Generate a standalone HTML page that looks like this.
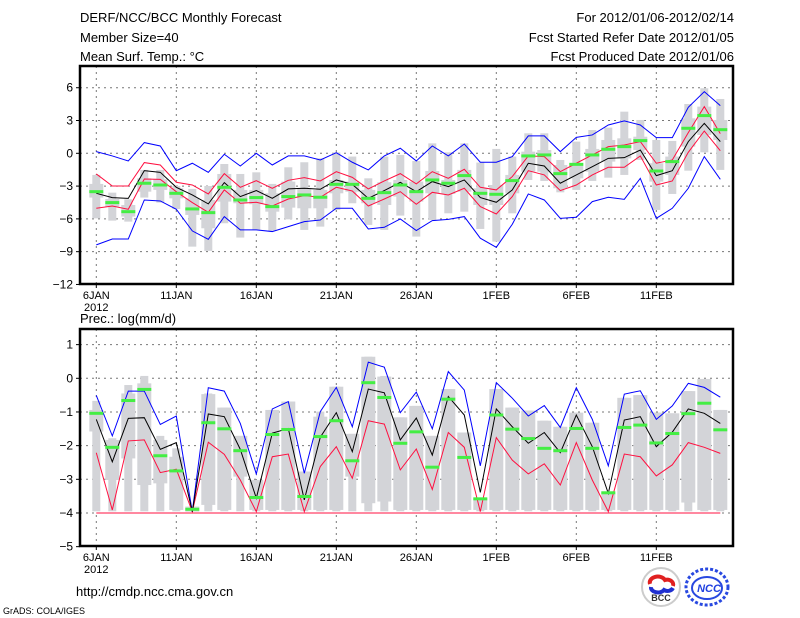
<!DOCTYPE html>
<html><head><meta charset="utf-8"><style>
body{margin:0;background:#fff;}
svg{display:block;font-family:"Liberation Sans",sans-serif;}
</style></head><body>
<svg id="c" width="800" height="618" xmlns="http://www.w3.org/2000/svg">
<text x="80" y="22" font-size="13">DERF/NCC/BCC Monthly Forecast</text>
<text x="80" y="42" font-size="13">Member Size=40</text>
<text x="80" y="61" font-size="13">Mean Surf. Temp.: °C</text>
<text x="734" y="22" font-size="13" text-anchor="end">For 2012/01/06-2012/02/14</text>
<text x="734" y="42" font-size="13" text-anchor="end">Fcst Started Refer Date 2012/01/05</text>
<text x="734" y="61" font-size="13" text-anchor="end">Fcst Produced Date 2012/01/06</text>
<text x="80" y="323" font-size="13">Prec.: log(mm/d)</text>
<text x="76" y="596" font-size="13">http://cmdp.ncc.cma.gov.cn</text>
<text x="3" y="614" font-size="9">GrADS: COLA/IGES</text>
<g><circle cx="661" cy="587" r="19" fill="#fff" stroke="#ccc" stroke-width="2"/><path d="M650 584 a8 6 0 0 1 15 -4 a6 5 0 0 1 8 6" stroke="#e02020" stroke-width="4" fill="none"/><path d="M651 587 a7 5 0 0 0 13 3 a6 5 0 0 0 9 -2" stroke="#2030d0" stroke-width="4" fill="none"/><text x="661" y="601" font-size="9" font-weight="bold" text-anchor="middle" fill="#333">BCC</text></g>
<g><ellipse cx="707" cy="587" rx="21" ry="18" fill="none" stroke="#2848e0" stroke-width="3" stroke-dasharray="3 2"/><ellipse cx="707" cy="588" rx="15" ry="11" fill="none" stroke="#2848e0" stroke-width="2"/><text x="709" y="592" font-size="11" font-weight="bold" font-style="italic" text-anchor="middle" fill="#2040e0">NCC</text></g>
</svg>
<script>
const tickDays=[0,5,10,15,20,25,30,35];
const tickLabels=['6JAN','11JAN','16JAN','21JAN','26JAN','1FEB','6FEB','11FEB'];
const tTicks=[6,3,0,-3,-6,-9,-12];
const pTicks=[1,0,-1,-2,-3,-4,-5];
// temperature panel
const tMax=[0.15,-0.24,-0.70,0.98,0.67,-1.59,-0.91,-1.74,-0.09,-1.16,0,-1.07,-0.24,-0.24,-0.61,0.06,-0.82,-1.52,-0.24,0.46,-0.70,0.67,-0.24,0.85,-0.82,-0.82,-0.30,1.59,1.59,0.15,1.46,1.68,2.59,2.96,2.59,1.43,1.43,4.21,5.64,4.36];
const tUp=[-1.89,-2.99,-2.99,-0.85,-1.07,-2.65,-2.90,-3.72,-1.86,-3.11,-2.50,-3.20,-2.47,-2.23,-2.53,-1.68,-2.20,-3.26,-2.53,-1.86,-2.80,-1.68,-2.29,-1.46,-3.11,-3.35,-2.13,-0.24,-0.30,-1.68,-0.91,-0.15,0.61,0.76,1.07,-0.91,-0.61,1.89,4.27,1.8];
const tMean=[-3.66,-4.05,-4.12,-1.59,-1.74,-3.11,-3.81,-4.63,-2.68,-3.96,-3.41,-4.12,-3.26,-3.20,-3.29,-2.44,-2.84,-4.12,-3.41,-2.65,-3.51,-2.59,-3.05,-2.44,-4.05,-4.48,-3.35,-0.91,-1.16,-2.74,-1.98,-1.22,-0.46,-0.40,0.30,-2.04,-1.59,1.07,2.74,1.07];
const tLow=[-5.03,-4.82,-5.12,-2.35,-2.38,-3.51,-4.51,-5.40,-3.35,-4.57,-4.48,-4.82,-4.18,-3.87,-4.02,-3.11,-3.45,-4.82,-4.18,-3.51,-4.66,-3.57,-3.81,-3.20,-4.88,-5.55,-3.96,-1.59,-1.98,-3.41,-2.90,-1.98,-1.28,-1.28,-0.24,-2.90,-2.53,0.09,2.04,0.24];
const tMin=[-8.38,-7.84,-7.84,-4.27,-4.36,-5.12,-7.10,-7.87,-5.79,-7.01,-7.01,-7.16,-6.71,-6.25,-6.10,-5.03,-5.03,-6.92,-6.77,-6.01,-7.07,-6.16,-6.04,-5.79,-7.77,-8.60,-6.49,-3.72,-4.27,-5.95,-5.85,-4.42,-4.02,-4.21,-2.29,-5.95,-5.03,-3.20,-0.30,-2.38];
const tObs=[-3.51,-4.51,-5.34,-2.74,-2.90,-3.66,-5.09,-5.43,-3.11,-4.27,-4.05,-4.88,-3.96,-3.81,-4.02,-2.84,-2.84,-4.12,-3.60,-2.90,-3.51,-2.44,-2.74,-2.04,-3.66,-3.75,-2.50,-0.24,-0.15,-1.86,-1.01,-0.15,0.37,0.61,1.16,-1.62,-0.76,2.29,3.45,2.16];
const tWTop=[-1.98,-3.60,-4.21,-1.52,-1.52,-2.99,-3.26,-2.99,-0.98,-1.89,-1.74,-2.80,-1.28,-0.82,-0.46,0.09,-0.30,-2.29,-0.30,-0.15,-0.70,0.91,0.09,0.91,-0.85,0.40,-0.30,1.83,1.83,-0.61,1.07,2.13,2.35,3.81,3.05,1.22,1.13,4.51,5.95,4.97];
const tWBot=[-5.95,-6.16,-6.25,-4.05,-4.51,-5.09,-8.54,-8.93,-6.40,-7.71,-7.01,-7.10,-6.04,-7.01,-6.71,-5.18,-4.57,-6.55,-7.01,-5.70,-7.62,-6.10,-5.49,-5.34,-6.92,-8.08,-5.49,-2.44,-2.53,-3.57,-3.35,-2.53,-2.23,-1.98,-0.61,-5.18,-3.72,-1.59,0.09,-1.52];
const tBTop=[-2.80,-4.18,-4.73,-2.29,-2.38,-3.20,-4.12,-4.27,-1.89,-3.35,-3.35,-3.66,-2.59,-3.20,-3.35,-2.44,-2.59,-3.35,-2.65,-2.44,-2.59,-1.62,-2.44,-1.52,-3.20,-2.90,-1.98,0.15,0.30,-1.07,-0.91,0.40,1.22,1.37,1.52,-0.91,-0.30,3.20,4.27,3.05];
const tBBot=[-4.05,-4.88,-5.79,-3.51,-3.35,-4.12,-5.64,-6.86,-4.42,-4.57,-4.66,-5.34,-4.97,-5.03,-5.03,-3.66,-3.51,-4.57,-4.73,-3.96,-4.42,-3.66,-3.72,-3.51,-4.73,-4.73,-3.66,-1.68,-1.68,-3.20,-2.29,-1.68,-0.76,-0.46,0.30,-2.59,-1.98,0.61,1.68,1.22];
// precipitation panel
const pMax=[-0.51,-1.71,-0.38,-0.38,-1.37,-1.12,-3.96,-0.28,-0.38,-1.34,-2.84,-0.91,-0.69,-2.82,-0.99,-0.27,-1.44,0.48,0.33,-1.02,-0.41,-1.50,0.20,-0.35,-2.60,-0.13,-0.59,-1.12,-0.81,-1.46,-0.28,-1.22,-2.60,-0.47,-0.37,-1.22,-0.82,-0.15,-0.27,-0.56];
const pMean=[-1.22,-2.48,-1.19,-1.17,-2.11,-1.91,-3.96,-1.06,-1.14,-2.11,-3.56,-1.63,-1.49,-3.61,-1.75,-1.02,-2.18,-0.32,-0.43,-1.83,-1.18,-2.28,-0.54,-1.09,-3.39,-0.91,-1.44,-1.93,-1.61,-2.21,-1.09,-2.03,-3.42,-1.24,-1.14,-2.03,-1.60,-0.91,-1.04,-1.34];
const pUp=[-2.21,-3.91,-1.86,-1.83,-2.80,-2.70,-3.96,-1.90,-2.26,-3.02,-3.96,-2.33,-2.25,-3.96,-2.62,-2.03,-2.97,-1.26,-1.36,-2.72,-2.10,-3.30,-1.61,-2.05,-3.96,-1.76,-2.43,-2.84,-2.54,-3.17,-1.91,-3.02,-3.96,-2.25,-2.33,-2.90,-2.57,-1.91,-2.05,-2.23];
const pLow=[-4,-4,-4,-4,-4,-4,-4,-4,-4,-4,-4,-4,-4,-4,-4,-4,-4,-4,-4,-4,-4,-4,-4,-4,-4,-4,-4,-4,-4,-4,-4,-4,-4,-4,-4,-4,-4,-4,-4,-4];
const pObs=[-1.04,-2.05,-0.66,-0.33,-2.30,-2.75,-3.89,-1.32,-1.50,-2.15,-3.54,-1.67,-1.52,-3.51,-1.73,-1.26,-2.45,-0.13,-0.57,-1.93,-1.59,-2.64,-0.62,-2.35,-3.58,-1.09,-1.51,-1.79,-2.08,-2.15,-1.49,-2.08,-3.40,-1.46,-1.39,-1.92,-1.64,-1.05,-0.74,-1.53];
const pWTop=[-0.67,-1.78,-0.20,0.07,-1.71,-2.08,-3.81,-0.45,-0.87,-1.71,-3.02,-0.94,-0.69,-2.77,-0.99,-0.25,-1.65,0.64,0.07,-1.16,-0.82,-1.71,-0.32,-1.61,-3.56,-0.32,-0.87,-0.96,-1.26,-1.44,-1.02,-1.32,-3.37,-0.58,-0.50,-1.02,-1.04,-0.38,-0.02,-0.94];
const pBTop=[-0.94,-1.83,-0.45,-0.15,-1.83,-2.33,-3.81,-0.47,-0.87,-1.71,-3.02,-0.94,-0.69,-2.77,-1.14,-0.25,-1.65,0.64,0.05,-1.16,-0.82,-1.71,-0.32,-1.61,-3.56,-0.32,-0.87,-0.96,-1.26,-1.44,-1.02,-1.32,-3.37,-0.58,-0.50,-1.02,-1.04,-0.38,-0.02,-0.94];
const pBBot=[-1.58,-3.02,-2.38,-3.17,-3.12,-3.91,-3.96,-3.76,-3.91,-2.92,-3.91,-3.91,-3.91,-3.91,-3.91,-3.91,-2.92,-3.71,-3.66,-3.91,-3.91,-3.91,-3.91,-3.91,-3.91,-3.91,-3.91,-3.91,-3.91,-3.91,-3.91,-3.91,-3.91,-3.91,-3.91,-3.91,-3.91,-3.69,-3.91,-3.91];
const pWBot=-3.95;

const NS='http://www.w3.org/2000/svg';
const svg=document.getElementById('c');
const X0=80,X1=733;
const xs=d=>96.3+16*d;
const ty=v=>153.3-v*10.93;
const py=v=>378.3-v*33.67;
function mk(tag,attrs,parent){const e=document.createElementNS(NS,tag);for(const k in attrs)e.setAttribute(k,attrs[k]);(parent||svg).appendChild(e);return e;}

function panel(top,bot,yf,ticks,name,series){
  const g=mk('g',{});
  
  
  // grid
  ticks.forEach(t=>{const y=yf(t);if(y>top+2&&y<bot-2){const l=mk('line',{x1:X0,x2:X1,y1:y,y2:y,stroke:'#777','stroke-width':1,'stroke-dasharray':'2 4'},g);
    
    }
    const tk=mk('line',{x1:X0-4,x2:X0,y1:y,y2:y,stroke:'#000'},g);
    
    
    const tx=mk('text',{x:X0-7,y:y+4,'font-size':12,'text-anchor':'end'},g);tx.textContent=(t<0?'\u2212'+(-t):t);
    
    });
  tickDays.forEach((d,i)=>{const x=xs(d);const l=mk('line',{x1:x,x2:x,y1:top,y2:bot,stroke:'#777','stroke-width':1,'stroke-dasharray':'2 4'},g);
    
    
    const tk=mk('line',{x1:x,x2:x,y1:bot,y2:bot+4,stroke:'#000'},g);
    
    
    const tx=mk('text',{x:x,y:bot+15,'font-size':11,'text-anchor':'middle'},g);tx.textContent=tickLabels[i];
    
    });
  const yr=mk('text',{x:xs(0),y:bot+27,'font-size':11,'text-anchor':'middle'},g);yr.textContent='2012';
  
  
  // bars
  for(let d=0;d<40;d++){const x=xs(d);
    const w=mk('rect',{x:x-4,width:8,y:yf(series.wt[d]),height:Math.max(0,yf(series.wb[d])-yf(series.wt[d])),fill:'#d3d4d8'},g);
    
    
    const b=mk('rect',{x:x-7,width:14,y:yf(series.bt[d]),height:Math.max(0,yf(series.bb[d])-yf(series.bt[d])),fill:'#d3d4d8'},g);
    
    }
  const lines=[[series.max,'#0000ff','max-line'],[series.up,'#ff1040','upper-line'],[series.low,'#ff1040','lower-line'],[series.mean,'#000','mean-line']];
  lines.forEach(([arr,col,nm])=>{const p=mk('polyline',{points:arr.map((v,d)=>xs(d)+','+yf(v)).join(' '),fill:'none',stroke:col,'stroke-width':1},g);
    
    });
  series.obs.forEach((v,d)=>{const r=mk('rect',{x:xs(d)-7,y:yf(v)-1.5,width:14,height:3,fill:'#44ee44'},g);
    
    });
  const f=mk('rect',{x:X0,y:top,width:X1-X0,height:bot-top,fill:'none',stroke:'#000','stroke-width':2.5},g);
  
  
}
panel(66,284,ty,tTicks,'temperature-panel',{max:tMax,up:tUp,mean:tMean,low:tLow,min:tMin,obs:tObs,wt:tWTop,wb:tWBot,bt:tBTop,bb:tBBot});
// min line for temperature
(function(){const p=mk('polyline',{points:tMin.map((v,d)=>xs(d)+','+ty(v)).join(' '),fill:'none',stroke:'#0000ff','stroke-width':1});

})();
panel(329,546,py,pTicks,'precipitation-panel',{max:pMax,up:pUp,mean:pMean,low:pLow,obs:pObs,wt:pWTop,wb:pWTop.map(()=>pWBot),bt:pBTop,bb:pBBot});
</script>
</body></html>
